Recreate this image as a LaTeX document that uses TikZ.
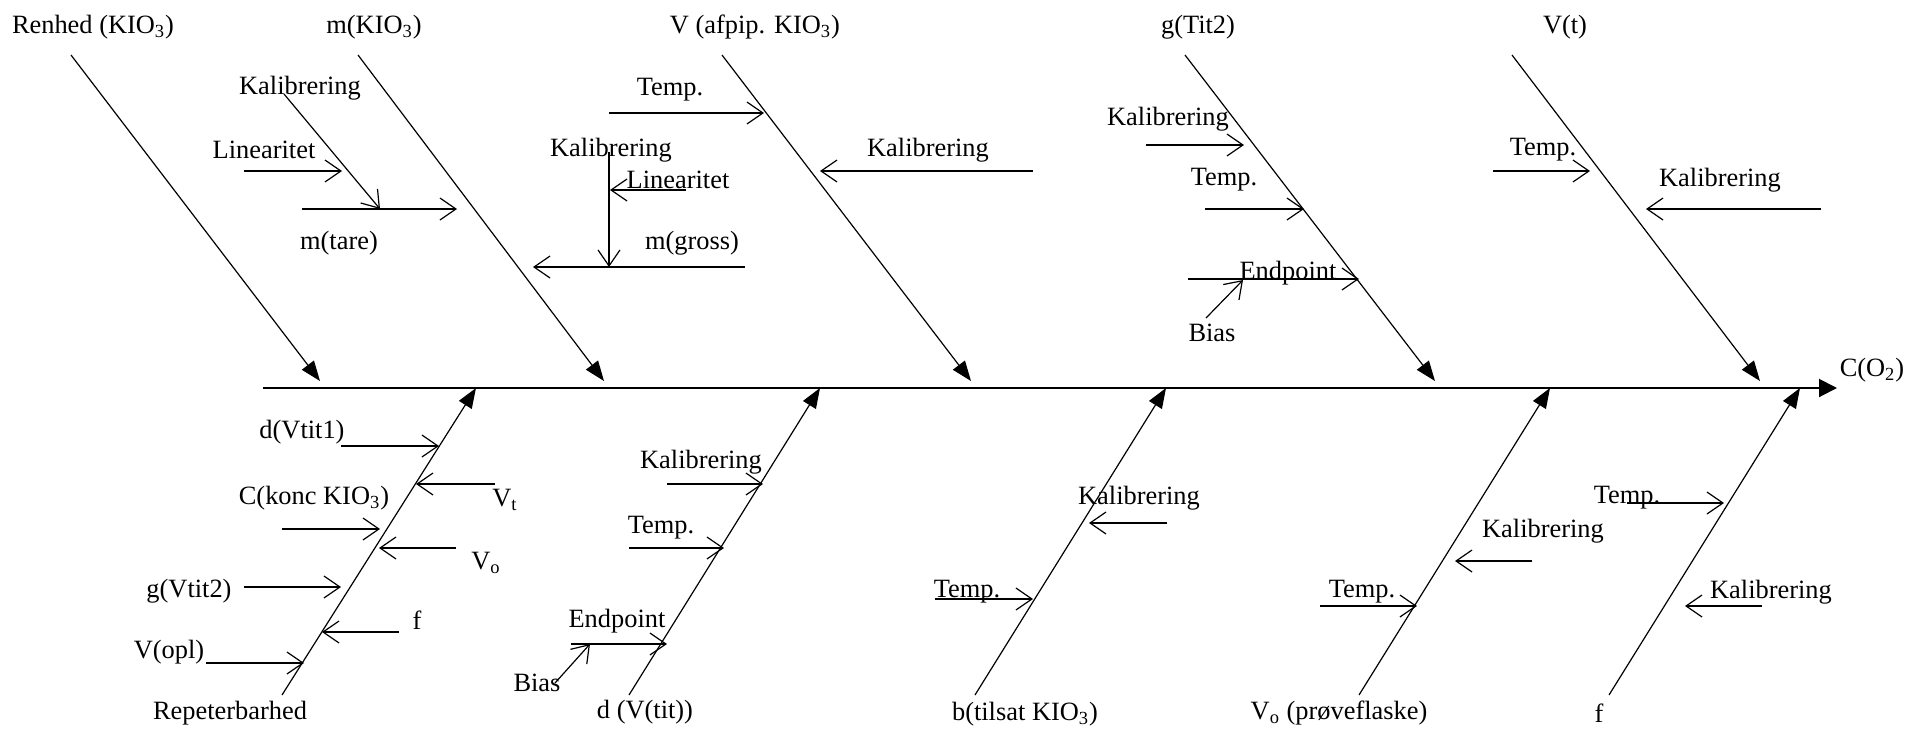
\documentclass[tikz,border=0pt]{standalone}
\usepackage{fontspec}
\setmainfont{Liberation Serif}
\usepackage{tikz}
\usetikzlibrary{arrows.meta}

\tikzset{
  lbl/.style={inner sep=0pt, font=\fontsize{13.2}{15}\selectfont},
  bone/.style={line width=0.6pt, -{Triangle[length=10pt,width=7.5pt]}},
  sub/.style={line width=0.6pt, -{Straight Barb[length=8pt,width=11pt]}},
}

\begin{document}
\begin{tikzpicture}[x=0.5pt,y=-0.5pt]
        \useasboundingbox (0,0) rectangle (1908,729);
        % Spine
        \coordinate (s0) at (263,388);
        \coordinate (s1) at (1837,388);
        \node[lbl] (co2) at (1872,370) {C(O\textsubscript{2})};
        \draw[line width=1pt, -{Triangle[length=9pt,width=9pt]}] (s0) -- (s1);

        % Renhed (KIO3)
        \node[lbl] (renhed) at (93,27) {Renhed (KIO\textsubscript{3})};
        \coordinate (renhed0) at (71,55);
        \coordinate (renhed1) at (320,381);
        \draw[bone] (renhed0) -- (renhed1);

        % m(KIO3)
        \node[lbl] (mkio) at (374,27) {m(KIO\textsubscript{3})};
        \coordinate (mkio0) at (358,55);
        \coordinate (mkio1) at (604,381);
        \draw[bone] (mkio0) -- (mkio1);
        \node[lbl] (mkal) at (300,88) {Kalibrering};
        \node[lbl] (mlin) at (264,150) {Linearitet};
        \node[lbl] (mtare) at (339,243) {m(tare)};
        \coordinate (mkal0) at (284,94);   \coordinate (mkal1) at (380,209);
        \coordinate (mlin0) at (244,171);  \coordinate (mlin1) at (342,171);
        \coordinate (mtare0) at (302,209); \coordinate (mtare1) at (457,209);
        \draw[sub] (mkal0) -- (mkal1);
        \draw[sub] (mlin0) -- (mlin1);
        \draw[sub] (mtare0) -- (mtare1);
        \node[lbl] (gkal) at (611,150) {Kalibrering};
        \node[lbl] (glin) at (678,180) {Linearitet};
        \node[lbl] (mgross) at (692,243) {m(gross)};
        \coordinate (gkal0) at (609,152);    \coordinate (gkal1) at (609,267);
        \coordinate (glin0) at (686,190);    \coordinate (glin1) at (610,190);
        \coordinate (mgross0) at (745,267);  \coordinate (mgross1) at (533,267);
        \draw[sub] (gkal0) -- (gkal1);
        \draw[sub] (glin0) -- (glin1);
        \draw[sub] (mgross0) -- (mgross1);

        % V (afpip. KIO3)
        \node[lbl] (vaf) at (755,27) {V (afpip. KIO\textsubscript{3})};
        \coordinate (vaf0) at (722,55);
        \coordinate (vaf1) at (971,381);
        \draw[bone] (vaf0) -- (vaf1);
        \node[lbl] (vtemp) at (670,90) {Temp.};
        \node[lbl] (vkal) at (928,150) {Kalibrering};
        \coordinate (vtemp0) at (609,113);  \coordinate (vtemp1) at (764,113);
        \coordinate (vkal0) at (1033,171);  \coordinate (vkal1) at (820,171);
        \draw[sub] (vtemp0) -- (vtemp1);
        \draw[sub] (vkal0) -- (vkal1);

        % g(Tit2)
        \node[lbl] (gtit) at (1198,27) {g(Tit2)};
        \coordinate (gtit0) at (1185,55);
        \coordinate (gtit1) at (1435,381);
        \draw[bone] (gtit0) -- (gtit1);
        \node[lbl] (tkal) at (1168,119) {Kalibrering};
        \node[lbl] (ttemp) at (1224,180) {Temp.};
        \node[lbl] (tend) at (1288,273) {Endpoint};
        \node[lbl] (tbias) at (1212,333) {Bias};
        \coordinate (tkal0) at (1146,145);  \coordinate (tkal1) at (1244,145);
        \coordinate (ttemp0) at (1205,209); \coordinate (ttemp1) at (1304,209);
        \coordinate (tend0) at (1188,279);  \coordinate (tend1) at (1359,279);
        \coordinate (tbias0) at (1206,318); \coordinate (tbias1) at (1243,280);
        \draw[sub] (tkal0) -- (tkal1);
        \draw[sub] (ttemp0) -- (ttemp1);
        \draw[sub] (tend0) -- (tend1);
        \draw[sub] (tbias0) -- (tbias1);

        % V(t)
        \node[lbl] (vt) at (1565,27) {V(t)};
        \coordinate (vt0) at (1512,55);
        \coordinate (vt1) at (1760,381);
        \draw[bone] (vt0) -- (vt1);
        \node[lbl] (vttemp) at (1543,150) {Temp.};
        \node[lbl] (vtkal) at (1720,180) {Kalibrering};
        \coordinate (vttemp0) at (1493,171); \coordinate (vttemp1) at (1590,171);
        \coordinate (vtkal0) at (1821,209);  \coordinate (vtkal1) at (1646,209);
        \draw[sub] (vttemp0) -- (vttemp1);
        \draw[sub] (vtkal0) -- (vtkal1);

        % Repeterbarhed
        \node[lbl] (rep) at (230,713) {Repeterbarhed};
        \coordinate (rep0) at (282,695);
        \coordinate (rep1) at (476,388);
        \draw[bone] (rep0) -- (rep1);
        \node[lbl] (dv1) at (302,432) {d(Vtit1)};
        \node[lbl] (vsubt) at (505,500) {V\textsubscript{t}};
        \node[lbl] (ckonc) at (314,498) {C(konc KIO\textsubscript{3})};
        \node[lbl] (vsubo) at (486,563) {V\textsubscript{o}};
        \node[lbl] (gv2) at (189,591) {g(Vtit2)};
        \node[lbl] (rf) at (417,620) {f};
        \node[lbl] (vopl) at (169,652) {V(opl)};
        \coordinate (dv10) at (341,446);   \coordinate (dv11) at (439,446);
        \coordinate (vsubt0) at (495,484); \coordinate (vsubt1) at (416,484);
        \coordinate (ckonc0) at (282,529); \coordinate (ckonc1) at (380,529);
        \coordinate (vsubo0) at (456,548); \coordinate (vsubo1) at (379,548);
        \coordinate (gv20) at (244,587);   \coordinate (gv21) at (341,587);
        \coordinate (rf0) at (399,632);    \coordinate (rf1) at (322,632);
        \coordinate (vopl0) at (206,663);  \coordinate (vopl1) at (304,663);
        \foreach \a in {dv1,vsubt,ckonc,vsubo,gv2,rf,vopl}{
          \draw[sub] (\a0) -- (\a1);
        }

        % d (V(tit))
        \node[lbl] (dvt) at (645,712) {d (V(tit))};
        \coordinate (dvt0) at (629,695);
        \coordinate (dvt1) at (820,388);
        \draw[bone] (dvt0) -- (dvt1);
        \node[lbl] (dkal) at (701,462) {Kalibrering};
        \node[lbl] (dtemp) at (661,528) {Temp.};
        \node[lbl] (dend) at (617,621) {Endpoint};
        \node[lbl] (dbias) at (537,683) {Bias};
        \coordinate (dkal0) at (667,484);  \coordinate (dkal1) at (763,484);
        \coordinate (dtemp0) at (629,548); \coordinate (dtemp1) at (724,548);
        \coordinate (dend0) at (571,644);  \coordinate (dend1) at (667,644);
        \coordinate (dbias0) at (555,683); \coordinate (dbias1) at (590,644);
        \foreach \a in {dkal,dtemp,dend,dbias}{
          \draw[sub] (\a0) -- (\a1);
        }

        % b(tilsat KIO3)
        \node[lbl] (btil) at (1025,714) {b(tilsat KIO\textsubscript{3})};
        \coordinate (btil0) at (975,695);
        \coordinate (btil1) at (1166,388);
        \draw[bone] (btil0) -- (btil1);
        \node[lbl] (bkal) at (1139,498) {Kalibrering};
        \node[lbl] (btemp) at (967,592) {Temp.};
        \coordinate (bkal0) at (1167,523);  \coordinate (bkal1) at (1089,523);
        \coordinate (btemp0) at (935,599);  \coordinate (btemp1) at (1033,599);
        \draw[sub] (bkal0) -- (bkal1);
        \draw[sub] (btemp0) -- (btemp1);

        % Vo (proeveflaske)
        \node[lbl] (vpr) at (1339,713) {V\textsubscript{o} (prøveflaske)};
        \coordinate (vpr0) at (1359,695);
        \coordinate (vpr1) at (1550,388);
        \draw[bone] (vpr0) -- (vpr1);
        \node[lbl] (pkal) at (1543,531) {Kalibrering};
        \node[lbl] (ptemp) at (1362,592) {Temp.};
        \coordinate (pkal0) at (1532,561);  \coordinate (pkal1) at (1455,561);
        \coordinate (ptemp0) at (1320,606); \coordinate (ptemp1) at (1417,606);
        \draw[sub] (pkal0) -- (pkal1);
        \draw[sub] (ptemp0) -- (ptemp1);

        % f
        \node[lbl] (ff) at (1599,713) {f};
        \coordinate (ff0) at (1609,695);
        \coordinate (ff1) at (1800,388);
        \draw[bone] (ff0) -- (ff1);
        \node[lbl] (ftemp) at (1627,498) {Temp.};
        \node[lbl] (fkal) at (1771,592) {Kalibrering};
        \coordinate (ftemp0) at (1627,503); \coordinate (ftemp1) at (1724,503);
        \coordinate (fkal0) at (1762,606);  \coordinate (fkal1) at (1685,606);
        \draw[sub] (ftemp0) -- (ftemp1);
        \draw[sub] (fkal0) -- (fkal1);
\end{tikzpicture}
\end{document}
